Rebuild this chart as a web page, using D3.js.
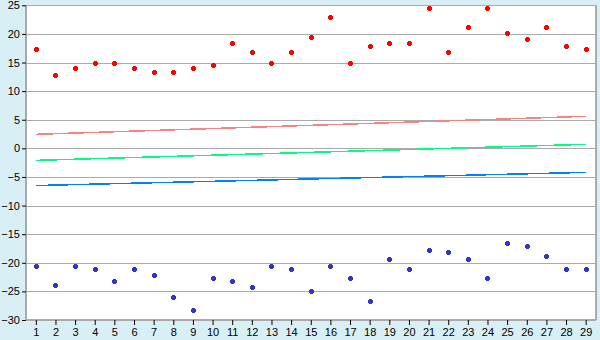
<!doctype html>
<html>
<head>
<meta charset="utf-8">
<script src="https://d3js.org/d3.v7.min.js"></script>
<style>
  body { margin: 0; background: #d9eff6; }
  svg { display: block; }
</style>
</head>
<body>
<svg width="600" height="340"></svg>
<script>
  // categories and values
  var days = d3.range(1, 30);
  var upper = [17.3, 12.9, 14.0, 15.0, 15.0, 14.0, 13.3, 13.3, 14.0, 14.5,
               18.4, 16.8, 15.0, 16.8, 19.4, 22.9, 15.0, 17.8, 18.4, 18.4,
               24.5, 16.8, 21.2, 24.5, 20.1, 19.1, 21.2, 17.8, 17.3];
  var lower = [-20.6, -23.9, -20.6, -21.1, -23.2, -21.1, -22.2, -26.0, -28.3, -22.7,
               -23.2, -24.3, -20.6, -21.1, -25.0, -20.6, -22.7, -26.7, -19.4, -21.1,
               -17.8, -18.2, -19.4, -22.7, -16.6, -17.1, -18.9, -21.1, -21.1];
  // trend lines: value at day 1 and at day 29
  var trendUpper = [2.45, 5.6];
  var trendMid = [-2.1, 0.7];
  var trendLower = [-6.5, -4.2];
  var yTicks = [25, 20, 15, 10, 5, 0, -5, -10, -15, -20, -25, -30];

  var svg = d3.select("svg");
  var plotLeft = 26, plotRight = 595.5, plotTop = 5.3, plotBottom = 320;

  var x = d3.scaleLinear().domain([0.5, 29.5]).range([plotLeft, plotRight]);
  var y = d3.scaleLinear().domain([-30, 25]).range([plotBottom, plotTop]);

  svg.append("rect")
     .attr("x", plotLeft).attr("y", plotTop)
     .attr("width", plotRight - plotLeft).attr("height", plotBottom - plotTop)
     .attr("fill", "#fff");

  // grid
  svg.append("g").selectAll("line")
     .data(yTicks)
     .enter().append("line")
     .attr("x1", plotLeft).attr("x2", plotRight)
     .attr("y1", function(d) { return Math.round(y(d)) + 0.5; })
     .attr("y2", function(d) { return Math.round(y(d)) + 0.5; })
     .attr("stroke", "#aaa")
     .attr("stroke-width", 1.5)
     .attr("shape-rendering", "crispEdges");

  // right frame
  svg.append("line")
     .attr("x1", plotRight).attr("x2", plotRight).attr("y1", plotTop).attr("y2", plotBottom)
     .attr("stroke", "#aaa").attr("stroke-width", 2)
     .attr("shape-rendering", "crispEdges");

  // trend lines
  var line = d3.line()
     .x(function(d, i) { return x(i === 0 ? 1 : 29); })
     .y(function(d) { return y(d); });

  [[trendUpper, "#ff8080"], [trendMid, "#00ff80"], [trendLower, "#0080ff"]].forEach(function(t) {
    svg.append("path")
       .attr("d", line(t[0]))
       .attr("fill", "none")
       .attr("stroke", t[1])
       .attr("stroke-width", 1.5)
       .attr("shape-rendering", "crispEdges");
  });

  // markers
  var marker = "M-1.5,-2.5h3v1h1v3h-1v1h-3v-1h-1v-3h1z";

  function dots(vals, color) {
    svg.append("g").selectAll("path")
       .data(vals)
       .enter().append("path")
       .attr("d", marker)
       .attr("transform", function(d, i) {
         return "translate(" + (Math.round(x(days[i])) + 0.5) + "," + (Math.round(y(d)) + 0.5) + ")";
       })
       .attr("fill", color)
       .attr("shape-rendering", "crispEdges");
  }
  dots(upper, "#ff0000");
  dots(lower, "#3333cc");

  // axes
  var yAxis = svg.append("g")
     .attr("transform", "translate(" + plotLeft + ",0)")
     .call(d3.axisLeft(y).tickValues(yTicks).tickSize(4).tickPadding(2));
  var xAxis = svg.append("g")
     .attr("transform", "translate(0," + plotBottom + ")")
     .call(d3.axisBottom(x).tickValues(days).tickSize(5).tickPadding(3).tickFormat(d3.format("d")));

  svg.selectAll(".domain").attr("stroke", "#aaa").attr("stroke-width", 2);
  yAxis.select(".domain").attr("d", "M0," + plotTop + "V" + plotBottom);
  xAxis.select(".domain").attr("d", "M" + plotLeft + ",0H" + plotRight);
  svg.selectAll(".tick line").attr("stroke", "#000");
  svg.selectAll(".tick text")
     .attr("fill", "#000")
     .style("font-family", "Liberation Sans, Arial, sans-serif")
     .style("font-size", "11px");
</script>
</body>
</html>
